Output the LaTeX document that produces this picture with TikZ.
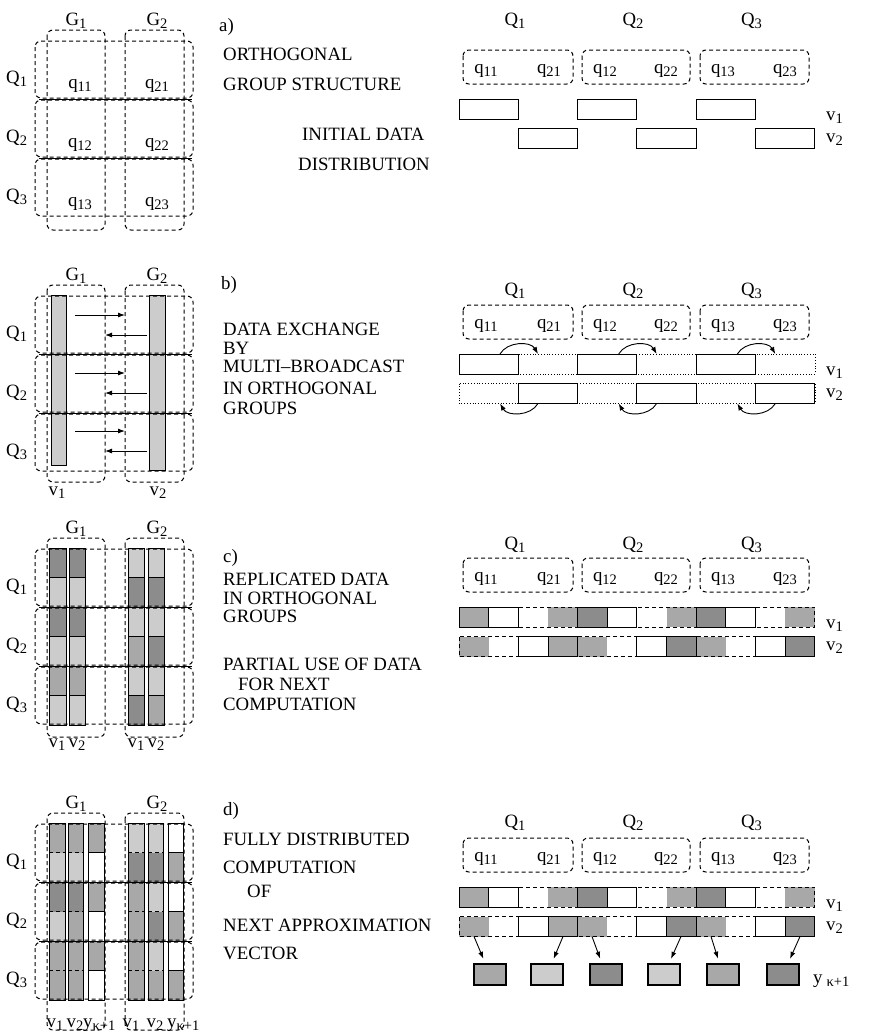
\documentclass[tikz,border=0pt]{standalone}
\usepackage{fontspec}
\setmainfont{Liberation Serif}
\usetikzlibrary{arrows.meta}

\definecolor{toneL}{gray}{0.80}
\definecolor{toneM}{gray}{0.66}
\definecolor{toneD}{gray}{0.55}
\newcommand{\lowix}[1]{\raisebox{-0.4ex}{\fontsize{14.5}{14.5}\selectfont #1}}

\begin{document}
\begin{tikzpicture}[x=1pt, y=-1pt,
  font=\fontsize{18.8}{21}\selectfont,
  grpbox/.style={draw, dash pattern=on 4pt off 3pt, rounded corners=6pt, line width=1pt},
  rowline/.style={line width=0.9pt},
  cellbox/.style={draw, line width=1pt},
  dotcell/.style={draw, dotted, line width=0.8pt},
  dashcell/.style={draw, dash pattern=on 4pt off 3pt, line width=1pt},
  ybox/.style={draw, line width=1.2pt, minimum width=32pt, minimum height=21pt, inner sep=0pt},
  lbl/.style={anchor=base, inner sep=0pt},
  caption/.style={anchor=base west, inner sep=0pt},
  arrow/.style={-{Latex[length=7pt, width=5pt]}, line width=0.9pt}
]
\useasboundingbox (0,0) rectangle (869,1036);

% left b: whole vectors in each group
\draw[cellbox, fill=toneL] (51,295) rectangle (66,465);
\draw[cellbox, fill=toneL] (149,295) rectangle (165,470);
\foreach \r in {0,1,2} {
  \coordinate (ra\r) at (75,{295+\r*58+20});
  \coordinate (rb\r) at (125,{295+\r*58+20});
  \draw[arrow] (ra\r) -- (rb\r);
  \coordinate (la\r) at (147,{295+\r*58+40});
  \coordinate (lb\r) at (105,{295+\r*58+40});
  \draw[arrow] (la\r) -- (lb\r);
}
\node[lbl] (vb1) at (57,495) {v\lowix{1}};
\node[lbl] (vb2) at (158,495) {v\lowix{2}};

% left c: replicated pieces
\begin{scope}[shift={(0,548)}]
  \foreach \j/\sh in {0/toneD,1/toneL,2/toneD,3/toneL,4/toneM,5/toneL} {
    \draw[cellbox, fill=\sh] (49,{\j*29.5}) rectangle (66,{(\j+1)*29.5});
    \draw[cellbox, fill=\sh] (69,{\j*29.5}) rectangle (85,{(\j+1)*29.5});
  }
  \foreach \j/\sa/\sb in {0/toneL/toneL,1/toneD/toneD,2/toneL/toneL,3/toneM/toneD,4/toneL/toneL,5/toneD/toneM} {
    \draw[cellbox, fill=\sa] (128,{\j*29.5}) rectangle (144,{(\j+1)*29.5});
    \draw[cellbox, fill=\sb] (148,{\j*29.5}) rectangle (164,{(\j+1)*29.5});
  }
\end{scope}
\node[lbl] (vc1) at (57,747) {v\lowix{1}};
\node[lbl] (vc2) at (77,747) {v\lowix{2}};
\node[lbl] (vc3) at (136,747) {v\lowix{1}};
\node[lbl] (vc4) at (156,747) {v\lowix{2}};

% left d: vectors and new iterate
\begin{scope}[shift={(0,823)}]
  \foreach \j/\sa/\sb/\sc in {0/toneM/toneM/toneM,1/toneL/toneL/white,2/toneD/toneD/toneM,3/toneL/toneM/white,4/toneM/toneM/toneM,5/toneM/toneM/white} {
    \fill[\sa] (49,{\j*29.5}) rectangle (65,{(\j+1)*29.5});
    \fill[\sb] (68,{\j*29.5}) rectangle (83,{(\j+1)*29.5});
    \draw[cellbox, fill=\sc] (88,{\j*29.5}) rectangle (104,{(\j+1)*29.5});
  }
  \foreach \j/\sa/\sb/\sc in {0/toneL/toneL/white,1/toneD/toneD/toneM,2/toneM/toneL/white,3/toneM/toneD/toneM,4/toneM/toneL/white,5/toneM/toneM/toneM} {
    \fill[\sa] (128,{\j*29.5}) rectangle (144,{(\j+1)*29.5});
    \fill[\sb] (148,{\j*29.5}) rectangle (163,{(\j+1)*29.5});
    \draw[cellbox, fill=\sc] (168,{\j*29.5}) rectangle (183,{(\j+1)*29.5});
  }
  \foreach \xa/\xb in {49/65,68/83,128/144,148/163} {
    \draw[cellbox] (\xa,0) rectangle (\xb,177);
    \foreach \h in {29.5,88.5,147.5}
      \draw[dashcell] (\xa,\h) -- (\xb,\h);
  }
\end{scope}
\node[lbl] (vd1) at (55,1027) {v\lowix{1}};
\node[lbl] (vd2) at (75,1027) {v\lowix{2}};
\node[caption] (vd3) at (83,1027) {y\lowix{κ+1}};
\node[lbl] (vd4) at (131,1027) {v\lowix{1}};
\node[lbl] (vd5) at (155,1027) {v\lowix{2}};
\node[caption] (vd6) at (167,1027) {y\lowix{κ+1}};

% left: orthogonal groups G1, G2 over rows Q1..Q3
\foreach \p/\T/\gb in {a/40/230, b/295/482, c/548/737, d/823/1030} {
  \begin{scope}[shift={(0,\T)}]
    \node[lbl] (G1\p) at (76,-15) {G\lowix{1}};
    \node[lbl] (G2\p) at (157,-15) {G\lowix{2}};
    \draw[grpbox] (47,-10) rectangle (105,\gb-\T);
    \draw[grpbox] (125,-10) rectangle (184,\gb-\T);
    \foreach \r in {1,2,3} {
      \draw[grpbox] (35,{(\r-1)*59+1}) rectangle (193,{\r*59-1});
      \node[caption] (Q\r\p) at (6,{(\r-1)*59+43}) {Q\lowix{\r}};
    }
    \draw[rowline] (39,59) -- (192,59);
    \draw[rowline] (39,118) -- (192,118);
  \end{scope}
}
\foreach \r in {1,2,3} {
  \node[lbl] (qa1\r) at (80,{(\r-1)*59+88}) {q\lowix{1\r}};
  \node[lbl] (qa2\r) at (157,{(\r-1)*59+88}) {q\lowix{2\r}};
}

% right: processor groups Q1..Q3 in one row
\foreach \p/\B/\lab in {a/50/-25, b/305/-10, c/558/-9, d/838/-11} {
  \begin{scope}[shift={(0,\B)}]
    \foreach \k/\xl/\xr in {1/463/573, 2/582/690, 3/700/809} {
      \draw[grpbox] (\xl,0) rectangle (\xr,34);
      \node[lbl] (Qr\k\p) at ({(\xl+\xr)/2-3},\lab) {Q\lowix{\k}};
      \node[lbl] (q1\k\p) at (\xl+23,23) {q\lowix{1\k}};
      \node[lbl] (q2\k\p) at (\xr-24,23) {q\lowix{2\k}};
    }
    \node[caption] (v1\p) at (826,70) {v\lowix{1}};
    \node[caption] (v2\p) at (826,92) {v\lowix{2}};
  \end{scope}
}

% right a: initial distribution
\begin{scope}[shift={(0,50)}]
  \foreach \i in {0,2,4}
    \draw[cellbox] ({459+\i*59.33},49) rectangle ++(59.33,20);
  \foreach \i in {1,3,5}
    \draw[cellbox] ({459+\i*59.33},78.5) rectangle ++(59.33,20);
\end{scope}

% right b: multi-broadcast
\begin{scope}[shift={(0,305)}]
  \draw[dotcell] (459,49) rectangle (815,69);
  \draw[dotcell] (459,78.5) rectangle (815,98.5);
  \foreach \i in {0,2,4}
    \draw[cellbox] ({459+\i*59.33},49) rectangle ++(59.33,20);
  \foreach \i in {1,3,5}
    \draw[cellbox] ({459+\i*59.33},78.5) rectangle ++(59.33,20);
  \foreach \k in {0,1,2} {
    \coordinate (bs\k) at ({500+\k*118.67},49);
    \coordinate (be\k) at ({538+\k*118.67},49);
    \draw[arrow] (bs\k) to[out=60, in=120] (be\k);
    \coordinate (cs\k) at ({538+\k*118.67},98.5);
    \coordinate (ce\k) at ({500+\k*118.67},98.5);
    \draw[arrow] (cs\k) to[out=-120, in=-60] (ce\k);
  }
\end{scope}

% right c, d: replicated vectors
\foreach \B in {558,838} {
  \begin{scope}[shift={(0,\B)}]
    \foreach \i/\sh in {1/toneM,3/toneM,5/toneM} {
      \fill[\sh] ({459+(\i+0.5)*59.33},49) rectangle ++(29.67,20);
      \draw[dashcell] ({459+\i*59.33},49) rectangle ++(59.33,20);
    }
    \foreach \i/\sh in {0/toneM,2/toneD,4/toneD} {
      \fill[\sh] ({459+\i*59.33},49) rectangle ++(29.67,20);
      \draw[cellbox] ({459+\i*59.33},49) rectangle ++(59.33,20);
      \draw[cellbox] ({459+(\i+0.5)*59.33},49) -- ++(0,20);
    }
    \foreach \i/\sh in {0/toneM,2/toneM,4/toneM} {
      \fill[\sh] ({459+\i*59.33},78.5) rectangle ++(29.67,20);
      \draw[dashcell] ({459+\i*59.33},78.5) rectangle ++(59.33,20);
    }
    \foreach \i/\sh in {1/toneM,3/toneD,5/toneD} {
      \fill[\sh] ({459+(\i+0.5)*59.33},78.5) rectangle ++(29.67,20);
      \draw[cellbox] ({459+\i*59.33},78.5) rectangle ++(59.33,20);
      \draw[cellbox] ({459+(\i+0.5)*59.33},78.5) -- ++(0,20);
    }
  \end{scope}
}

% right d: next approximation
\foreach \k/\xs/\xc/\sh in {1/474/490/toneM, 2/563/547/toneL, 3/592/606/toneD, 4/681/664/toneL, 5/711/723/toneM, 6/800/783/toneD} {
  \node[ybox, fill=\sh] (yb\k) at (\xc,974.5) {};
  \coordinate (ys\k) at (\xs,936.5);
  \draw[arrow, shorten >=5pt] (ys\k) -- (yb\k);
}
\node[caption] (ylab) at (813,983) {y\hspace{4pt}\lowix{κ+1}};

% panel captions
\node[caption] (capa)  at (219,31)  {a)};
\node[caption] (capa1) at (223,60)  {ORTHOGONAL};
\node[caption] (capa2) at (223,90)  {GROUP STRUCTURE};
\node[caption] (capa3) at (302,140) {INITIAL DATA};
\node[caption] (capa4) at (298,170) {DISTRIBUTION};
\node[caption] (capb)  at (221,289) {b)};
\node[caption] (capb1) at (223,335) {DATA EXCHANGE};
\node[caption] (capb2) at (223,354) {BY};
\node[caption] (capb3) at (223,372) {MULTI–BROADCAST};
\node[caption] (capb4) at (223,394) {IN ORTHOGONAL};
\node[caption] (capb5) at (223,414) {GROUPS};
\node[caption] (capc)  at (223,562) {c)};
\node[caption] (capc1) at (223,585) {REPLICATED DATA};
\node[caption] (capc2) at (223,604) {IN ORTHOGONAL};
\node[caption] (capc3) at (223,622) {GROUPS};
\node[caption] (capc4) at (223,670) {PARTIAL USE OF DATA};
\node[caption] (capc5) at (238,690) {FOR NEXT};
\node[caption] (capc6) at (223,710) {COMPUTATION};
\node[caption] (capd)  at (223,815) {d)};
\node[caption] (capd1) at (223,845) {FULLY DISTRIBUTED};
\node[caption] (capd2) at (223,873) {COMPUTATION};
\node[caption] (capd3) at (247,897) {OF};
\node[caption] (capd4) at (223,931) {NEXT APPROXIMATION};
\node[caption] (capd5) at (223,959) {VECTOR};
\end{tikzpicture}
\end{document}
